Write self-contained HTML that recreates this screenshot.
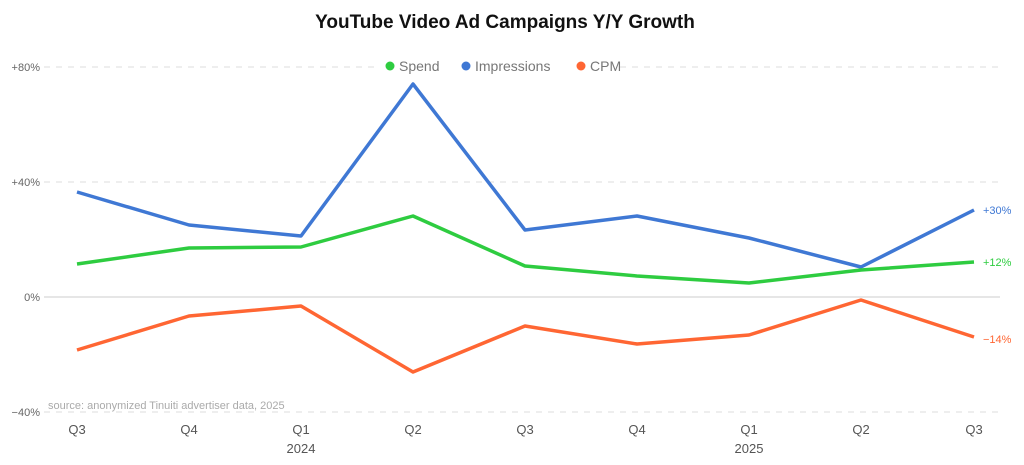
<!DOCTYPE html>
<html><head><meta charset="utf-8"><style>
body{margin:0;background:#fff;}
svg{display:block;font-family:"Liberation Sans",sans-serif;}
</style></head><body>
<svg width="1024" height="465" viewBox="0 0 1024 465">
<text x="505" y="28" text-anchor="middle" font-size="19" font-weight="bold" fill="#111">YouTube Video Ad Campaigns Y/Y Growth</text>
<g stroke="#ddd" stroke-width="1" stroke-dasharray="6,6">
<line x1="44" y1="67" x2="1000" y2="67"/>
<line x1="44" y1="182" x2="1000" y2="182"/>
<line x1="44" y1="412" x2="1000" y2="412"/>
</g>
<line x1="44" y1="297" x2="1000" y2="297" stroke="#ccc" stroke-width="1"/>
<g font-size="11" fill="#666" text-anchor="end">
<text x="40" y="71">+80%</text><text x="40" y="186">+40%</text><text x="40" y="301">0%</text><text x="40" y="416">−40%</text>
</g>
<rect x="380" y="56" width="240" height="20" fill="#fff"/>
<g font-size="14" fill="#777">
<circle cx="390" cy="66" r="4.5" fill="#2ecc40"/><text x="399" y="71">Spend</text>
<circle cx="466" cy="66" r="4.5" fill="#3f78d4"/><text x="475" y="71">Impressions</text>
<circle cx="581" cy="66" r="4.5" fill="#ff6633"/><text x="590" y="71">CPM</text>
</g>
<text x="48" y="409" font-size="11" fill="#aaa">source: anonymized Tinuiti advertiser data, 2025</text>
<g fill="none" stroke-width="3.5" stroke-linejoin="round">
<polyline stroke="#3f78d4" points="77,192 189,225 301,236 413,84 525,230 637,216 749,238 861,267 974,210"/>
<polyline stroke="#2ecc40" points="77,264 189,248 301,247 413,216 525,266 637,276 749,283 861,270 974,262"/>
<polyline stroke="#ff6633" points="77,350 189,316 301,306 413,372 525,326 637,344 749,335 861,300 974,337"/>
</g>
<g font-size="11">
<text x="983" y="214" fill="#3f78d4">+30%</text>
<text x="983" y="266" fill="#2ecc40">+12%</text>
<text x="983" y="343" fill="#ff6633">−14%</text>
</g>
<g font-size="13" fill="#555" text-anchor="middle">
<text x="77" y="434">Q3</text><text x="189" y="434">Q4</text><text x="301" y="434">Q1</text><text x="413" y="434">Q2</text><text x="525" y="434">Q3</text><text x="637" y="434">Q4</text><text x="749" y="434">Q1</text><text x="861" y="434">Q2</text><text x="974" y="434">Q3</text>
<text x="301" y="453">2024</text><text x="749" y="453">2025</text>
</g>
</svg>
</body></html>
